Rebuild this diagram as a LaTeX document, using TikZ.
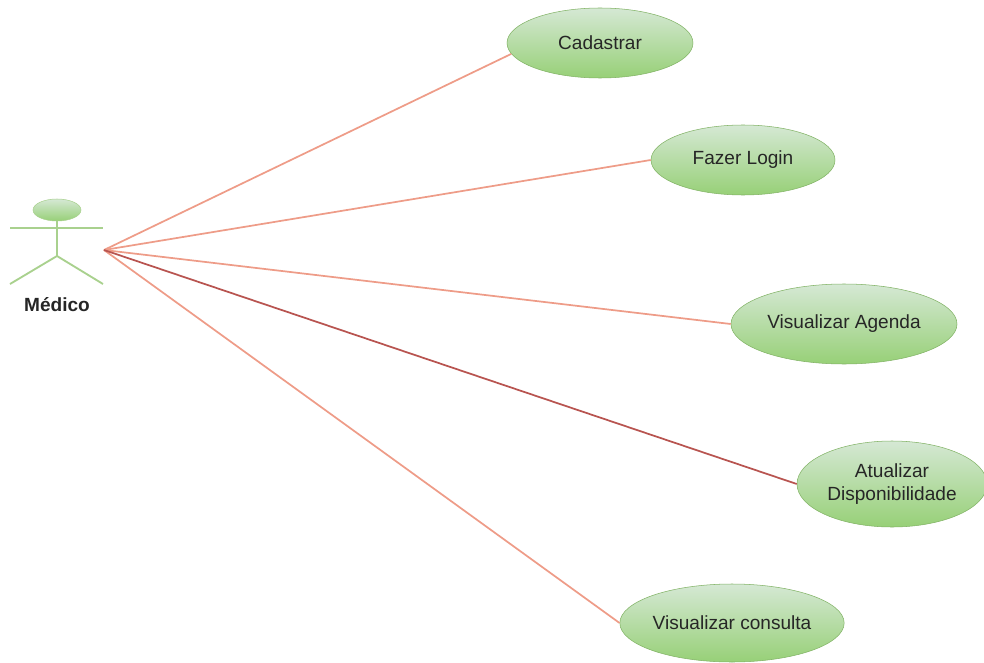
\documentclass[tikz,border=0pt]{standalone}
\usepackage{fontspec}
\setmainfont{Liberation Sans}
\usetikzlibrary{shapes.geometric}
\definecolor{usetop}{HTML}{D5E8D4}
\definecolor{usebottom}{HTML}{97D077}
\definecolor{useline}{HTML}{82B366}
\definecolor{stickline}{HTML}{A9D18E}
\definecolor{edgeline}{HTML}{EE9C88}
\definecolor{edgedark}{HTML}{B85450}
\tikzset{
    usecase/.style={ellipse, draw=useline, top color=usetop, bottom color=usebottom, inner sep=0pt, font=\fontsize{14.3pt}{17.3pt}\selectfont, align=center, text=black!85},
    stick/.style={stickline, line width=1.4pt},
    assoc/.style={edgeline, line width=1.3pt}
}

\begin{document}
\begin{tikzpicture}[x=0.75pt, y=-0.75pt]
\useasboundingbox (0,0) rectangle (984,663);

% Use cases
\node[usecase, minimum width=139.5pt, minimum height=52.5pt] (cadastrar) at (600,43) {Cadastrar};
\node[usecase, minimum width=138pt, minimum height=52.5pt] (login) at (743,160) {Fazer Login};
\node[usecase, minimum width=169.5pt, minimum height=60pt] (agenda) at (844,324) {Visualizar Agenda};
\node[usecase, minimum width=142.5pt, minimum height=64.5pt] (disponivel) at (892,484) {Atualizar\\Disponibilidade};
\node[usecase, minimum width=168pt, minimum height=58.5pt] (consulta) at (732,623) {Visualizar consulta};

% Actor
\node[usecase, minimum width=36pt, minimum height=16.5pt, draw=stickline] (head) at (57,210) {};
\coordinate (hip) at (57,256);
\coordinate (handl) at (10,228);
\coordinate (handr) at (103,228);
\coordinate (footl) at (10,284);
\coordinate (footr) at (103,284);
\draw[stick] (head.south) -- (hip);
\draw[stick] (handl) -- (handr);
\draw[stick] (footl) -- (hip) -- (footr);
\node[font=\fontsize{14.3pt}{17.3pt}\selectfont\bfseries, text=black!85] (medico) at (57,305) {Médico};

% Associations
\coordinate (hub) at (104,250);
\draw[assoc] (hub) -- (cadastrar.187);
\foreach \usename in {login, agenda, consulta} {
    \draw[assoc] (hub) -- (\usename.west);
}
\draw[assoc, edgedark] (hub) -- (disponivel.west);
\end{tikzpicture}
\end{document}
